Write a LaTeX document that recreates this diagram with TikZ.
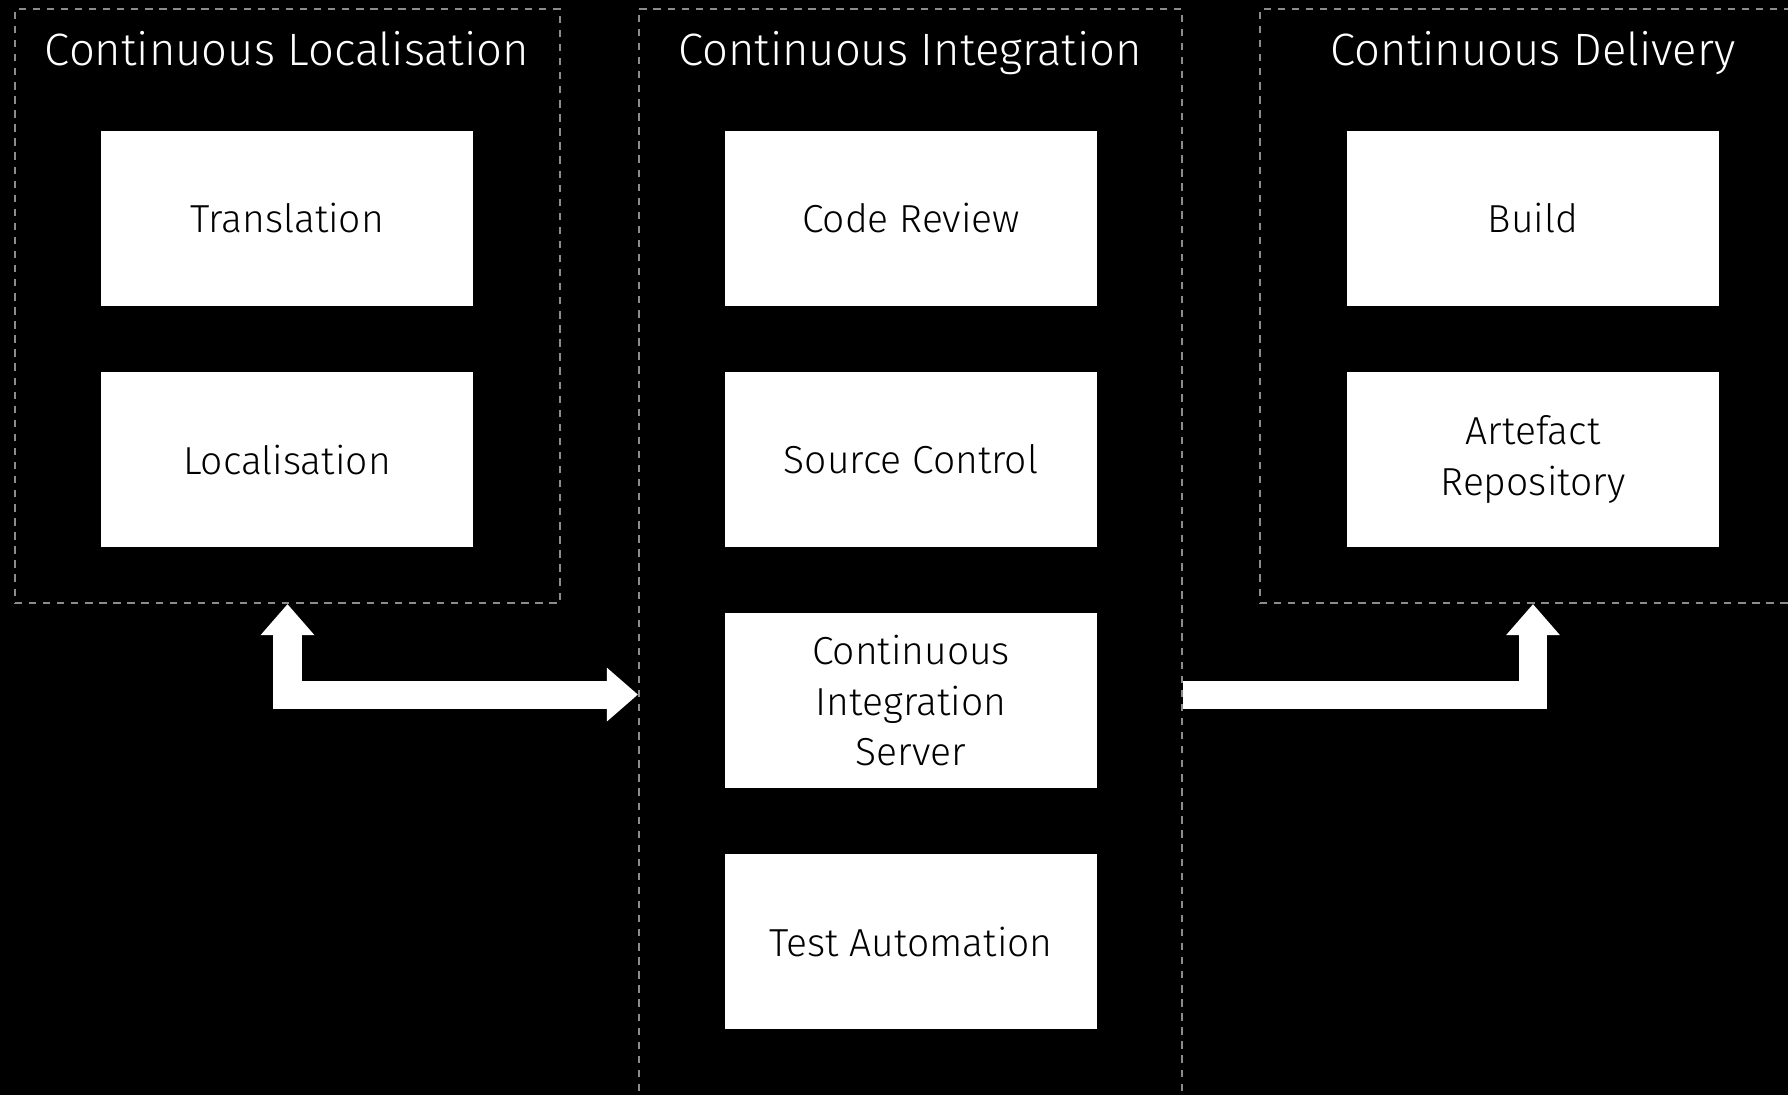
\documentclass[tikz,border=0pt]{standalone}
\usepackage{fontspec}
\setmainfont{Fira Sans Light}
\usetikzlibrary{positioning,arrows.meta}
\definecolor{framegray}{gray}{0.55}

\begin{document}
\begin{tikzpicture}[x=0.01cm,y=-0.01cm]

	\tikzset{
		stage/.style={draw=framegray,line width=0.6pt,dash pattern=on 2.1pt off 1.9pt,
				minimum width=5.45cm,inner sep=0pt},
		task/.style={fill=white,text=black,minimum width=3.72cm,minimum height=1.75cm,
				inner sep=0pt,align=center,font=\fontsize{11.1}{14.4}\selectfont},
		heading/.style={text=white,anchor=base,font=\fontsize{12.9}{16}\selectfont},
		fat arrow/.style={draw=white,line width=0.28cm,line join=miter},
		fat tip/.tip={Triangle[width=0.54cm,length=0.31cm,line width=0pt]}
	}

	\useasboundingbox (0,0) rectangle (1788,1095);
	\fill[black] (0,0) rectangle (1788,1095);
	\clip (0,0) rectangle (1788,1095);

	% dashed stage frames
	\node[stage,minimum height=5.94cm] (loc) at (287.5,306) {};
	\node[stage,minimum width=5.43cm,minimum height=11.01cm] (integ) at (910.5,559.5) {};
	\node[stage,minimum height=5.94cm] (deliv) at (1532.5,306) {};

	\node[heading] (loc title) at (287,66) {Continuous Localisation};
	\node[heading] (integ title) at (910,66) {Continuous Integration};
	\node[heading] (deliv title) at (1533,66) {Continuous Delivery};

	% localisation
	\node[task] (transl) at (287,218.5) {Translation};
	\node[task,below=0.645cm of transl] (l10n) {Localisation};

	% integration
	\node[task] (review) at (911,218.5) {Code Review};
	\node[task,below=0.645cm of review] (scm) {Source Control};
	\node[task,below=0.645cm of scm] (ciserver) {Continuous\\Integration\\Server};
	\node[task,below=0.645cm of ciserver] (tests) {Test Automation};

	% delivery
	\node[task] (build) at (1533,218.5) {Build};
	\node[task,below=0.645cm of build] (repo) {Artefact\\Repository};

	\draw[fat arrow,fat tip-fat tip] (loc.south) |- ([yshift=0.06cm]integ.west |- ciserver.west);
	\draw[fat arrow,-fat tip] ([yshift=0.06cm]integ.east |- ciserver.east) -| (deliv.south -| build.south);
\end{tikzpicture}
\end{document}
